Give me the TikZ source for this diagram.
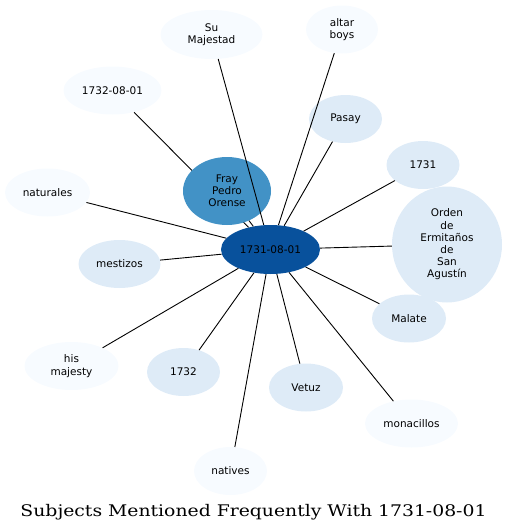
\documentclass[tikz,border=0pt]{standalone}
\usepackage{fontspec}
\setmainfont{DejaVu Sans}
\newfontfamily\titlefont[FakeStretch=1.175]{DejaVu Serif}
\usepackage{tikz}
\usetikzlibrary{shapes.geometric}
\definecolor{bluepale}{HTML}{F7FBFF}
\definecolor{bluelight}{HTML}{DEEBF7}
\definecolor{bluemid}{HTML}{4292C6}
\definecolor{bluedark}{HTML}{08519C}
\tikzset{
  subject/.style={ellipse, draw=none, inner sep=0pt, align=center,
    font=\fontsize{10.5}{12.2}\selectfont, minimum width=72pt, minimum height=48pt},
  rare/.style={subject, fill=bluepale},
  common/.style={subject, fill=bluelight},
  link/.style={line width=0.9pt, color=black}
}

\begin{document}
\begin{tikzpicture}[x=1pt, y=-1pt]
  \useasboundingbox (0,0) rectangle (507,531);

  % Centre
  \node[subject, fill=bluedark, minimum width=99pt, minimum height=49pt] (center) at (270.5,249.5) {1731-08-01};

  % Pale subjects
  \node[rare, minimum width=102pt, minimum height=49pt] (sumaj) at (211.5,34.5) {Su\\Majestad};
  \node[rare] (altar) at (342,29.5) {altar\\boys};
  \node[rare, minimum width=98pt] (date1732) at (112.5,90.5) {1732-08-01};
  \node[rare, minimum width=85pt] (naturales) at (47.5,192.5) {naturales};
  \node[rare, minimum width=94pt] (hismaj) at (71.5,366) {his\\majesty};
  \node[rare, minimum width=93pt] (monacillos) at (411.5,423.5) {monacillos};
  \node[rare, minimum width=73pt] (natives) at (230.5,471) {natives};

  % Light subjects
  \node[common, minimum width=73pt] (pasay) at (345.5,119) {Pasay};
  \node[common, minimum width=73pt] (y1731) at (423,165) {1731};
  \node[common, minimum width=110pt, minimum height=116pt] (orden) at (447,244.5) {Orden\\de\\Ermitaños\\de\\San\\Agustín};
  \node[common, minimum width=82pt] (mestizos) at (119.5,264) {mestizos};
  \node[common, minimum width=74pt] (malate) at (409,318.5) {Malate};
  \node[common, minimum width=73pt] (y1732) at (183.5,372) {1732};
  \node[common, minimum width=74pt] (vetuz) at (306,387.5) {Vetuz};

  % Link hidden under Fray Pedro Orense
  \draw[link] (center) -- (date1732);

  \node[subject, fill=bluemid, minimum width=88pt, minimum height=68pt] (fray) at (227,191) {Fray\\Pedro\\Orense};

  % Links
  \foreach \other in {fray, sumaj, altar, naturales, hismaj, monacillos, natives,
      pasay, y1731, orden, mestizos, malate, y1732, vetuz}
    \draw[link] (center) -- (\other);

  % Title
  \node[anchor=base, font=\titlefont\fontsize{16}{19}\selectfont] (title) at (253.5,516.5) {Subjects Mentioned Frequently With 1731-08-01};
\end{tikzpicture}
\end{document}
